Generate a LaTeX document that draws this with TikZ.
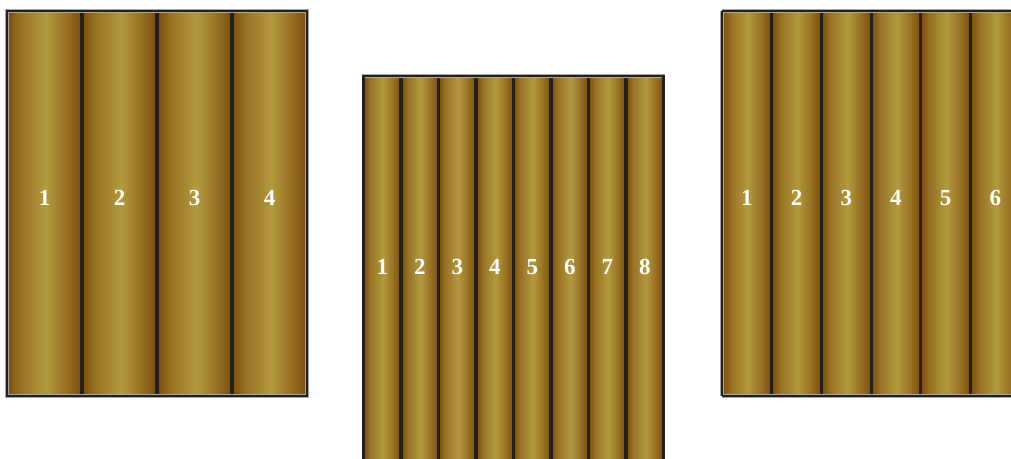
\documentclass[tikz,border=0pt]{standalone}
\usepackage{fontspec}
\setmainfont{Liberation Serif}
\definecolor{dk}{RGB}{122,76,10}
\definecolor{md}{RGB}{152,114,36}
\definecolor{lt}{RGB}{178,154,62}
\definecolor{edge}{RGB}{34,32,30}
\pgfdeclarehorizontalshading{colshade}{100bp}{color(0bp)=(dk); color(25bp)=(dk); color(34bp)=(md); color(51bp)=(lt); color(64bp)=(md); color(75bp)=(dk); color(100bp)=(dk)}
\tikzset{
  colbox/.style={shading=colshade},
  divider/.style={draw=edge, line width=3.2pt},
  frame/.style={draw=edge, line width=2.2pt},
  halo/.style={draw=black!35, line width=3.6pt},
  lbl/.style={text=white, font=\bfseries\fontsize{23}{23}\selectfont, inner sep=0pt}
}
\begin{document}
\begin{tikzpicture}[x=1pt,y=-1pt]
\useasboundingbox (0,0) rectangle (1011,458);
\clip (0,0) rectangle (1011,458);
% group 1
\foreach \i in {0,...,3} {
  \shade[colbox] ({7+75*\i},11) rectangle ({7+75*(\i+1)},396);
}
\foreach \i in {1,...,3} { \draw[divider] ({7+75*\i},11) -- ({7+75*\i},396); }
\draw[halo] (7,11) rectangle (307,396);
\draw[frame] (7,11) rectangle (307,396);
\foreach \i in {1,...,4} { \node[lbl] (a\i) at ({7+75*\i-37.5},198) {\i}; }
% group 2
\foreach \i in {0,...,7} {
  \shade[colbox] ({363.5+37.5*\i},76) rectangle ({363.5+37.5*(\i+1)},470);
}
\foreach \i in {1,...,7} { \draw[divider] ({363.5+37.5*\i},76) -- ({363.5+37.5*\i},470); }
\draw[halo] (363.5,76) rectangle (663.5,470);
\draw[frame] (363.5,76) rectangle (663.5,470);
\foreach \i in {1,...,8} { \node[lbl] (b\i) at ({363.5+37.5*\i-18.75},267) {\i}; }
% group 3
\foreach \i in {0,...,5} {
  \shade[colbox] ({722+49.7*\i},11) rectangle ({722+49.7*(\i+1)},396);
}
\foreach \i in {1,...,5} { \draw[divider] ({722+49.7*\i},11) -- ({722+49.7*\i},396); }
\draw[halo] (722,11) -- (1030,11) (722,396) -- (1030,396) (722,11) -- (722,396);
\draw[frame] (722,11) -- (1030,11) (722,396) -- (1030,396) (722,11) -- (722,396);
\foreach \i in {1,...,6} { \node[lbl] (c\i) at ({722+49.7*\i-24.85},198) {\i}; }
\end{tikzpicture}
\end{document}
